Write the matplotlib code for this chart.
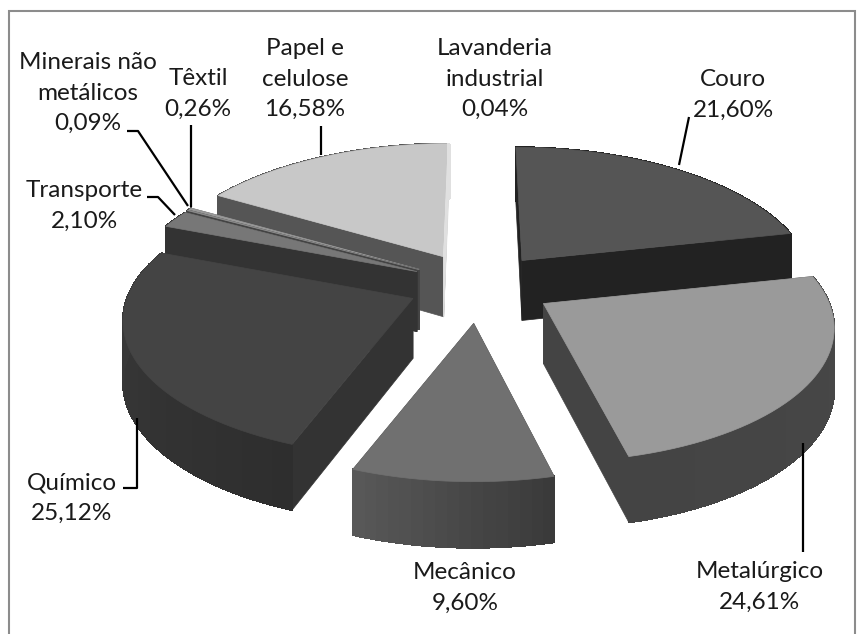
"""Exploded 3D pie of industrial sectors, projected by hand onto a 2D axes."""

import matplotlib

matplotlib.use("Agg")
import matplotlib.pyplot as plt
import numpy as np
from matplotlib.collections import PolyCollection
from matplotlib.colors import to_rgb
from matplotlib.patches import Polygon, Rectangle

plt.rcParams["font.family"] = ["Lato", "DejaVu Sans"]

# pie order, clockwise from 12 o'clock
SECTORS = ["Couro", "Metalúrgico", "Mecânico", "Químico", "Transporte",
           "Minerais não metálicos", "Têxtil", "Papel e celulose", "Lavanderia industrial"]
SHARES = [21.60, 24.61, 9.60, 25.12, 2.10, 0.09, 0.26, 16.58, 0.04]

# top colour, wall colour, rim colour at start and end of the slice
TOP_COLORS = ["#555555", "#9a9a9a", "#707070", "#444444", "#777777", "#888888", "#999999", "#c8c8c8", "#e0e0e0"]
WALL_COLORS = ["#222222", "#444444", "#444444", "#333333", "#333333", "#444444", "#555555", "#555555", "#e0e0e0"]
RIM_START = ["#222222", "#484848", "#3a3a3a", "#2e2e2e", "#333333", "#444444", "#555555", "#555555", "#e0e0e0"]
RIM_END = ["#222222", "#444444", "#585858", "#3c3c3c", "#333333", "#444444", "#555555", "#555555", "#e0e0e0"]
DRAW_ORDER = [7, 8, 6, 5, 0, 4, 3, 1, 2]
EXPLODE_FACTOR = [0.9, 1.0, 1.1, 0.95, 0.9, 0.9, 0.9, 0.93, 0.93]
SKEW = [1, 0.4, 0, 0, 0, 0, 0, 1, 1]

CENTER = (479.0, 285.0)
EXPLODE = (76.0, 35.0)
RADIUS_X = 286.0
RADIUS_Y = 132.0
PERSPECTIVE = 0.166
DEPTH = 60.0


def rim_point(apex, t, depth=0.0, skew=0):
    """Pixel position of the rim at angle t (radians, clockwise from top)."""
    u, v = np.sin(t), np.cos(t)
    s = 1.0 / (1.0 + PERSPECTIVE * v)
    x = apex[0] + RADIUS_X * u * s + skew * (apex[0] - CENTER[0]) * (s - 1.0)
    return x, apex[1] - RADIUS_Y * v * s + depth * (1.0 - 0.1 * v)


def slice_apex(idx, bounds):
    # the hairline slice next to 12 o'clock stays against its neighbour
    if SHARES[idx] < 0.05:
        idx -= 1
    mid = (bounds[idx] + bounds[idx + 1]) / 2
    f = EXPLODE_FACTOR[idx]
    return CENTER[0] + f * EXPLODE[0] * np.sin(mid), CENTER[1] - f * EXPLODE[1] * np.cos(mid)


def draw_slice(ax, apex, start, stop, top, wall, rim_a, rim_b, skew):
    ts = np.linspace(start, stop, max(int(np.degrees(stop - start) / 2), 2) + 1)

    # radial walls
    for t in (start, stop):
        ax.add_patch(Polygon([apex, rim_point(apex, t, 0.0, skew), rim_point(apex, t, DEPTH, skew),
                              (apex[0], apex[1] + DEPTH)],
                             closed=True, fc=wall, ec=wall, lw=0.5))

    # outer rim, shaded across its width
    quads, shades = [], []
    a, b = np.array(to_rgb(rim_a)), np.array(to_rgb(rim_b))
    for i in range(len(ts) - 1):
        quads.append([rim_point(apex, ts[i], 0.0, skew), rim_point(apex, ts[i + 1], 0.0, skew),
                      rim_point(apex, ts[i + 1], DEPTH, skew), rim_point(apex, ts[i], DEPTH, skew)])
        shades.append(a + (b - a) * i / max(len(ts) - 2, 1))
    ax.add_collection(PolyCollection(quads, facecolors=shades, edgecolors=shades,
                                     linewidths=0.8, antialiaseds=False))

    # top face
    outline = [apex] + [rim_point(apex, t, 0.0, skew) for t in ts]
    ax.add_patch(Polygon(outline, closed=True, fc=top, ec=top, lw=0.5))


fig = plt.figure(figsize=(8.67, 6.34), dpi=100)
ax = fig.add_axes([0, 0, 1, 1])
ax.set_xlim(0, 867)
ax.set_ylim(634, 0)
ax.axis("off")

ax.add_patch(Rectangle((9, 11), 846, 640, fc="white", ec="#8c8c8c", lw=1.5))

bounds = np.radians(np.concatenate([[0.0], np.cumsum(SHARES)]) * 3.6)
for idx in DRAW_ORDER:
    draw_slice(ax, slice_apex(idx, bounds), bounds[idx], bounds[idx + 1], TOP_COLORS[idx],
               WALL_COLORS[idx], RIM_START[idx], RIM_END[idx], SKEW[idx])

# leader lines
LEADERS = [
    [(689, 117), (679, 165)],
    [(321, 126), (321, 155)],
    [(191, 125), (191, 207)],
    [(127, 131), (138, 131), (188, 206)],
    [(147, 197), (158, 197), (175, 215)],
    [(123, 488), (137, 488), (137, 418)],
    [(803, 443), (803, 552)],
]
for pts in LEADERS:
    xs, ys = zip(*pts)
    ax.plot(xs, ys, color="black", lw=1.6, solid_capstyle="butt")

# label text and centre of each label block
LABELS = [
    ("Couro\n21,60%", 733, 95),
    ("Metalúrgico\n24,61%", 760, 587),
    ("Mecânico\n9,60%", 465, 588),
    ("Químico\n25,12%", 72, 498),
    ("Transporte\n2,10%", 84, 206),
    ("Minerais não\nmetálicos\n0,09%", 88, 93),
    ("Têxtil\n0,26%", 198, 94),
    ("Papel e\ncelulose\n16,58%", 305, 79),
    ("Lavanderia\nindustrial\n0,04%", 495, 79),
]
for text, x, y in LABELS:
    ax.text(x, y, text, ha="center", va="center", fontsize=17.5, color="#1a1a1a", linespacing=1.55)

fig.savefig("out.png", dpi=100)
